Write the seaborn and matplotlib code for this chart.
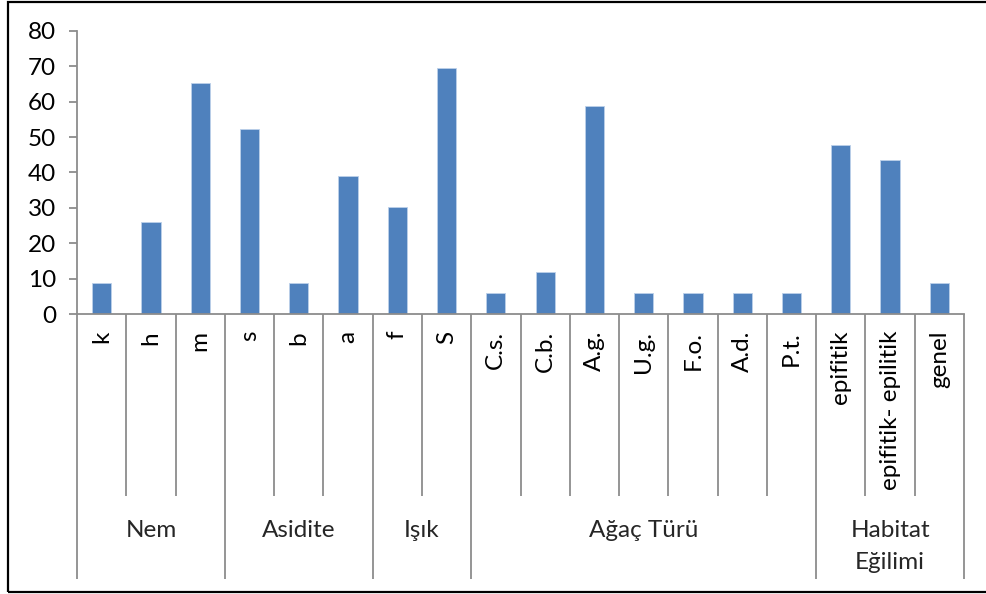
import matplotlib
matplotlib.use("Agg")
import matplotlib.pyplot as plt
from matplotlib.patches import Rectangle
import seaborn as sns
import pandas as pd

# Percentage of species per ecological class
categories = ["k", "h", "m", "s", "b", "a", "f", "S",
              "C.s.", "C.b.", "A.g.", "U.g.", "F.o.", "A.d.", "P.t.",
              "epifitik", "epifitik- epilitik", "genel"]
values = [8.7, 26.1, 65.2, 52.2, 8.7, 39.1, 30.4, 69.6,
          5.9, 11.8, 58.8, 5.9, 5.9, 5.9, 5.9,
          47.8, 43.5, 8.7]
groups = ["Nem", "Asidite", "Işık", "Ağaç Türü", "Habitat\nEğilimi"]
group_sizes = [3, 3, 2, 7, 3]
y_ticks = [0, 10, 20, 30, 40, 50, 60, 70, 80]

sns.set_theme(style="white")
plt.rcParams["font.family"] = ["Lato", "DejaVu Sans"]

AXIS_GREY = "#8c8c8c"
BAR_BLUE = "#4f81bd"
FS = 17.5

df = pd.DataFrame({"kategori": categories, "yuzde": values})

fig = plt.figure(figsize=(9.86, 5.94), dpi=100)
ax = fig.add_axes([77 / 986, 1 - 314.3 / 594, (964 - 77) / 986, (314.3 - 30.7) / 594])

sns.barplot(data=df, x="kategori", y="yuzde", color=BAR_BLUE, width=0.39,
            saturation=1, edgecolor="#bcd0ea", linewidth=0.6, ax=ax)

n = len(categories)
ax.set_xlim(-0.5, n - 0.5)
ax.set_ylim(y_ticks[0], y_ticks[-1])
ax.set_yticks(y_ticks)
ax.set_xlabel("")
ax.set_ylabel("")

for side in ["top", "right"]:
    ax.spines[side].set_visible(False)
for side in ["left", "bottom"]:
    ax.spines[side].set_color(AXIS_GREY)
    ax.spines[side].set_linewidth(1.3)

ax.tick_params(axis="y", direction="out", length=6, width=1.3, color=AXIS_GREY,
               labelsize=FS, pad=9, left=True)
ax.tick_params(axis="x", length=0, labelsize=FS, pad=12, rotation=90, bottom=True)
for lbl in ax.get_xticklabels() + ax.get_yticklabels():
    lbl.set_color("black")

# Multi-level category axis: separators between categories and groups
trans = ax.get_xaxis_transform()
ax_h_px = 314.3 - 30.7
inner_bottom = -(496 - 314.3) / ax_h_px
outer_bottom = -(579 - 314.3) / ax_h_px

group_edges = [0]
for size in group_sizes:
    group_edges.append(group_edges[-1] + size)

for i in range(n + 1):
    bottom = outer_bottom if i in group_edges else inner_bottom
    ax.plot([i - 0.5, i - 0.5], [0, bottom], transform=trans, color=AXIS_GREY,
            linewidth=1.3, clip_on=False, solid_capstyle="butt")

label_top = -(520 - 314.3) / ax_h_px
for g, start, end in zip(groups, group_edges[:-1], group_edges[1:]):
    center = (start + end - 1) / 2
    ax.text(center, label_top, g, transform=trans, ha="center", va="top",
            fontsize=FS, linespacing=1.65, clip_on=False)

# Chart border
fig.patches.append(Rectangle((8 / 986, 1 - 592 / 594), 1.0, (592 - 1.5) / 594,
                             transform=fig.transFigure, fill=False,
                             edgecolor="black", linewidth=1.6))

fig.savefig("out.png", dpi=100, facecolor="white")
